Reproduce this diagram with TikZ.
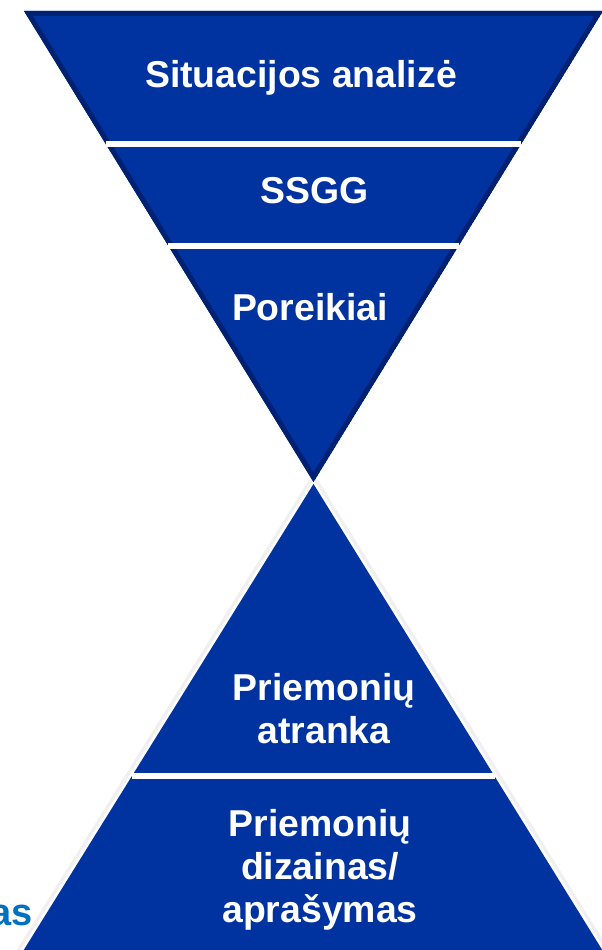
\documentclass[tikz,border=0pt]{standalone}
\usepackage{fontspec}
\setmainfont{Liberation Sans}
\usetikzlibrary{calc}
\definecolor{funnelblue}{RGB}{0,51,160}
\definecolor{funneledge}{RGB}{0,33,113}
\definecolor{textblue}{RGB}{0,112,192}
\begin{document}
\begin{tikzpicture}[x=1pt, y=-1pt,
  stagetext/.style={text=white, font=\fontsize{37.4}{43}\selectfont\bfseries, align=center, anchor=base, inner sep=0pt},
  sep/.style={draw=white, line width=6pt}]
\useasboundingbox (0,0) rectangle (602,950);

% word cut off behind the funnel
\node[anchor=base east, text=textblue, font=\fontsize{38}{40}\selectfont\bfseries, inner sep=0pt] (cut) at (33,925) {as};

% Bottom funnel
\coordinate (d) at (313.5,484);
\coordinate (e) at (20,956);
\coordinate (f) at (606,956);
\draw[black!6, line width=12pt, line join=round] (d) -- (e) -- (f) -- cycle;
\draw[white, line width=5pt, line join=round] (d) -- (e) -- (f) -- cycle;
\fill[funnelblue] (d) -- (e) -- (f) -- cycle;
\draw[sep] ($(d)!0.619!(e)$) -- ($(d)!0.619!(f)$);

% Top funnel
\coordinate (a) at (24,11);
\coordinate (b) at (603,11);
\coordinate (c) at (313.5,482);
\begin{scope}
  \clip (a) -- (b) -- (c) -- cycle;
  \fill[funnelblue] (a) -- (b) -- (c) -- cycle;
  \draw[funneledge, line width=10pt] (a) -- (b) -- (c) -- cycle;
\end{scope}
\draw[sep] ($(a)!0.282!(c)$) -- ($(b)!0.282!(c)$);
\draw[sep] ($(a)!0.499!(c)$) -- ($(b)!0.499!(c)$);

% Labels
\node[stagetext] (situacija) at (301,88) {Situacijos analizė};
\node[stagetext] (ssgg) at (314.5,203) {SSGG};
\node[stagetext] (poreikiai) at (310,320) {Poreikiai};
\node[stagetext] (atranka) at (324,743) {Priemonių\\atranka};
\node[stagetext] (dizainas) at (320,922) {Priemonių\\dizainas/\\aprašymas};

\end{tikzpicture}
\end{document}
